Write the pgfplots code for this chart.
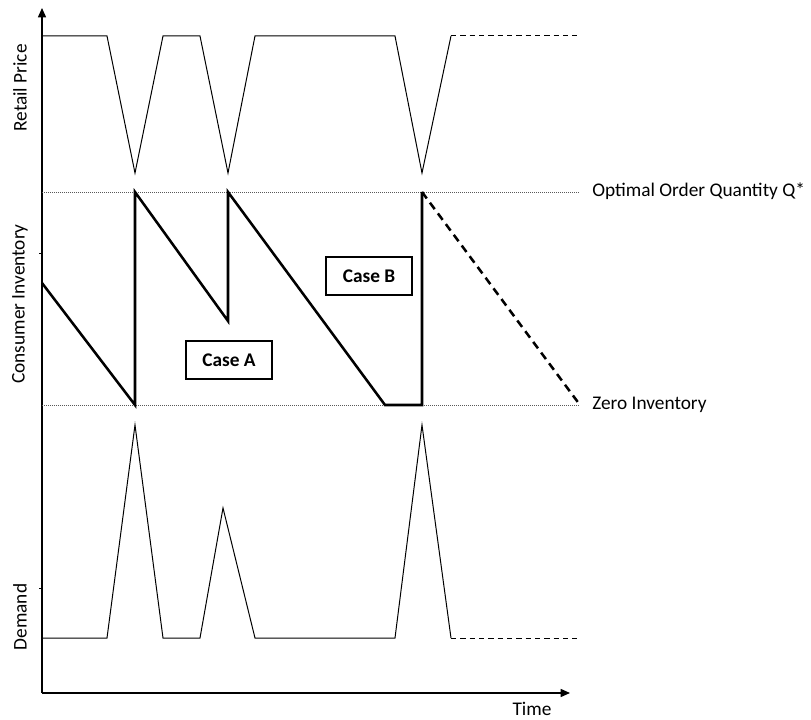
\documentclass[border=0pt]{standalone}
\usepackage{pgfplots}
\pgfplotsset{compat=1.18}
\usepackage{fontspec}
\setmainfont{Carlito}
\usetikzlibrary{arrows.meta}
\begin{document}
\begin{tikzpicture}
\begin{axis}[
  x=0.75pt, y=0.75pt,
  xmin=42, xmax=570, ymin=26, ymax=711,
  axis lines*=left,
  axis line style={line width=1.1pt, -{Triangle[length=7pt,width=6pt]}},
  xtick=\empty,
  ytick={466,131}, yticklabels={,},
  tick align=outside, major tick length=2pt,
  tick style={line width=0.5pt, black},
  clip=false,
  font=\fontsize{14.5}{17}\selectfont,
]
% bounding box
\path (axis cs:0,0) rectangle (axis cs:811,719);
% reference lines
\addplot[line width=0.5pt, densely dotted, gray!70!black] coordinates {(42,527) (580,527)};
\addplot[line width=0.5pt, densely dotted, gray!70!black] coordinates {(42,314) (580,314)};
% retail price
\addplot[line width=0.75pt, black] coordinates {
(42,683) (107,683) (135,546) (163,683) (200,683) (228,546) (255,683) (395,683) (422,546) (451,683)};
\addplot[line width=0.75pt, black, dash pattern=on 4pt off 3pt] coordinates {(451,683) (577,683)};
% consumer inventory
\addplot[line width=1.9pt, black] coordinates {
(42,436) (135,314) (135,527) (228,398) (228,527) (385,314) (422,314) (422,527)};
\addplot[line width=1.9pt, black, dash pattern=on 6pt off 4pt] coordinates {(422,527) (580,314)};
% demand
\addplot[line width=0.75pt, black] coordinates {
(42,81) (107,81) (135,294) (163,81) (200,81) (223,211) (255,81) (395,81) (422,294) (451,81)};
\addplot[line width=0.75pt, black, dash pattern=on 4pt off 3pt] coordinates {(451,81) (577,81)};
% texts
\node[anchor=base west, inner sep=0pt] at (axis cs:592,522) {Optimal Order Quantity Q*};
\node[anchor=base west, inner sep=0pt] at (axis cs:592,310) {Zero Inventory};
\node[anchor=base, inner sep=0pt] at (axis cs:532,4) {Time};
\node[rotate=90, inner sep=0pt] at (axis cs:20,631) {Retail Price};
\node[rotate=90, inner sep=0pt] at (axis cs:20,415) {Consumer Inventory};
\node[rotate=90, inner sep=0pt] at (axis cs:20,102) {Demand};
\node[draw, line width=1.6pt, minimum width=64.5pt, minimum height=28.5pt, inner sep=0pt, font=\fontsize{14.5}{17}\selectfont\bfseries] at (axis cs:229,359) {Case A};
\node[draw, line width=1.6pt, minimum width=64.5pt, minimum height=28.5pt, inner sep=0pt, font=\fontsize{14.5}{17}\selectfont\bfseries] at (axis cs:369,443) {Case B};
\end{axis}
\end{tikzpicture}
\end{document}
